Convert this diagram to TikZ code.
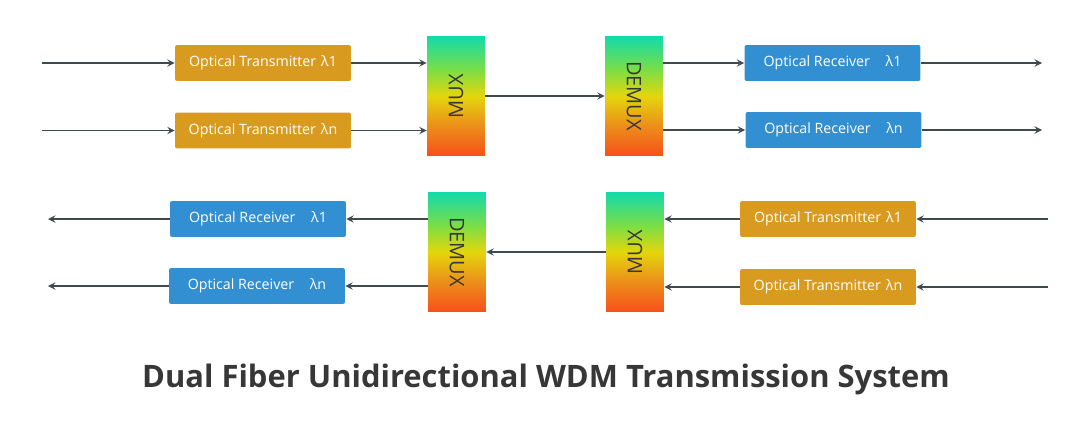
\documentclass[tikz,border=0pt]{standalone}
\usepackage{fontspec}
\setmainfont{Open Sans}
\usepackage{graphicx}
\usetikzlibrary{shapes,arrows,calc}
\definecolor{txcol}{RGB}{217,154,32}
\definecolor{rxcol}{RGB}{50,144,210}
\definecolor{linkcol}{RGB}{62,74,78}
\definecolor{muxtext}{RGB}{55,55,55}
\definecolor{grad0}{RGB}{247,80,26}
\definecolor{grad1}{RGB}{236,142,26}
\definecolor{grad2}{RGB}{228,214,12}
\definecolor{grad3}{RGB}{122,222,70}
\definecolor{grad4}{RGB}{18,218,172}
\pgfdeclareverticalshading{muxshade}{100bp}{color(0bp)=(grad0); color(25bp)=(grad0); color(37.5bp)=(grad1); color(50bp)=(grad2); color(61bp)=(grad3); color(75bp)=(grad4); color(100bp)=(grad4)}
\tikzset{every picture/.style={>=stealth},
  txbox/.style={rectangle, rounded corners=1.2pt, fill=txcol, text=white, minimum width=3.52cm, minimum height=0.72cm, inner sep=0pt, font=\fontsize{8.1}{10}\selectfont},
  rxbox/.style={txbox, fill=rxcol},
  muxbox/.style={rectangle, shade, shading=muxshade, minimum width=1.16cm, minimum height=2.4cm, inner sep=0pt, text=muxtext, font=\fontsize{11.4}{13}\selectfont},
  link/.style={->, draw=linkcol, line width=0.85pt}}

\begin{document}
\begin{tikzpicture}[x=0.02cm,y=-0.02cm]
  \useasboundingbox (0,0) rectangle (1080,436);
  % upper fiber
  \node[txbox] (tx1) at (263,63) {Optical Transmitter\hspace{0.35em}λ1};
  \node[txbox] (txn) at (263,130.5) {Optical Transmitter\hspace{0.35em}λn};
  \node[muxbox] (mux) at (456,96) {\rotatebox{90}{MUX}};
  \node[muxbox] (demux) at (634,96) {\rotatebox{-90}{DEMUX}};
  \node[rxbox] (rx1) at (832.5,63) {Optical Receiver\hspace{1.1em}λ1};
  \node[rxbox] (rxn) at (833.5,130) {Optical Receiver\hspace{1.1em}λn};
  \coordinate (in1) at (42,63);
  \coordinate (inn) at (42,130.5);
  \coordinate (out1) at (1042,63);
  \coordinate (outn) at (1042,130);
  \draw [link] (in1) -- (tx1);
  \draw [link] (inn) -- (txn);
  \draw [link] (tx1) -- (tx1 -| mux.west);
  \draw [link] (txn) -- (txn -| mux.west);
  \draw [link] (mux) -- (demux);
  \draw [link] (rx1 -| demux.east) -- (rx1);
  \draw [link] (rxn -| demux.east) -- (rxn);
  \draw [link] (rx1) -- (out1);
  \draw [link] (rxn) -- (outn);
  % lower fiber
  \node[rxbox] (rx1b) at (258,219) {Optical Receiver\hspace{1.1em}λ1};
  \node[rxbox] (rxnb) at (257,286) {Optical Receiver\hspace{1.1em}λn};
  \node[muxbox] (demuxb) at (457,252) {\rotatebox{-90}{DEMUX}};
  \node[muxbox] (muxb) at (635,252) {\rotatebox{90}{MUX}};
  \node[txbox] (tx1b) at (828,219) {Optical Transmitter\hspace{0.35em}λ1};
  \node[txbox] (txnb) at (828,287) {Optical Transmitter\hspace{0.35em}λn};
  \coordinate (in1b) at (1048,219);
  \coordinate (innb) at (1048,287);
  \coordinate (out1b) at (48,219);
  \coordinate (outnb) at (48,286);
  \draw [link] (in1b) -- (tx1b);
  \draw [link] (innb) -- (txnb);
  \draw [link] (tx1b) -- (tx1b -| muxb.east);
  \draw [link] (txnb) -- (txnb -| muxb.east);
  \draw [link] (muxb) -- (demuxb);
  \draw [link] (rx1b -| demuxb.west) -- (rx1b);
  \draw [link] (rxnb -| demuxb.west) -- (rxnb);
  \draw [link] (rx1b) -- (out1b);
  \draw [link] (rxnb) -- (outnb);
  \node[anchor=base, text=muxtext, font=\fontsize{17.6}{20}\selectfont\bfseries] (cap) at (546,387) {Dual Fiber Unidirectional WDM Transmission System};
\end{tikzpicture}
\end{document}
